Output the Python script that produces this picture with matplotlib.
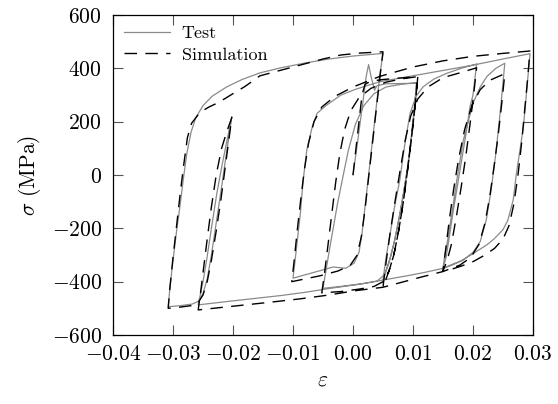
import matplotlib
matplotlib.use("Agg")
import matplotlib.pyplot as plt
from matplotlib.ticker import FuncFormatter

plt.rcParams.update({
    "font.family": "cmr10",
    "mathtext.fontset": "cm",
    "axes.formatter.use_mathtext": True,
    "axes.unicode_minus": True,
})

# ---- measured test response (strain, stress in MPa), in loading order ----
test_strain = [
    # monotonic start with upper yield point and plateau
    0.0, 0.0008, 0.0016, 0.0022, 0.0026, 0.0031, 0.0036, 0.0040, 0.0055, 0.0080, 0.0106,
    # reversal to compression
    0.0102, 0.0097, 0.0091, 0.0084, 0.0076, 0.0068, 0.0060, 0.0052, 0.0040, 0.0020, 0.0000, -0.0025, -0.0050,
    # reload in tension
    -0.0046, -0.0040, -0.0033, -0.0026, -0.0018, -0.0008, 0.0004, 0.0018, 0.0035, 0.0055, 0.0080, 0.0106,
    # unload
    0.0103, 0.0098, 0.0092, 0.0085, 0.0078, 0.0070, 0.0062, 0.0055, 0.0050,
    # reload
    0.0055, 0.0062, 0.0070, 0.0078, 0.0086, 0.0095, 0.0105, 0.0117, 0.0135, 0.0156, 0.0180, 0.0206,
    # unload
    0.0200, 0.0195, 0.0188, 0.0180, 0.0173, 0.0166, 0.0160, 0.0155, 0.0150,
    # reload
    0.0153, 0.0156, 0.0165, 0.0173, 0.0184, 0.0200, 0.0212, 0.0223, 0.0238, 0.0253,
    # long compression branch
    0.0246, 0.0238, 0.0230, 0.0222, 0.0212, 0.0200, 0.0184, 0.0165, 0.0150, 0.0120, 0.0090,
    0.0050, 0.0010, -0.0038, -0.0080, -0.0120, -0.0160, -0.0200, -0.0258,
    # short tension excursion
    -0.0255, -0.0250, -0.0244, -0.0236, -0.0227, -0.0218, -0.0210, -0.0202,
    # compression to the minimum strain
    -0.0207, -0.0213, -0.0220, -0.0228, -0.0236, -0.0243, -0.0250, -0.0257, -0.0268, -0.0288, -0.0308,
    # large tension branch
    -0.0305, -0.0300, -0.0294, -0.0288, -0.0283, -0.0277, -0.0270, -0.0262, -0.0250, -0.0235,
    -0.0210, -0.0185, -0.0155, -0.0120, -0.0080, -0.0040, 0.0000, 0.0030, 0.0050,
    # compression
    0.0045, 0.0040, 0.0035, 0.0030, 0.0025, 0.0020, 0.0015, 0.0010, 0.0002, -0.0012, -0.0033,
    -0.0060, -0.0088, -0.0100,
    # tension to the maximum strain
    -0.0097, -0.0093, -0.0088, -0.0083, -0.0077, -0.0068, -0.0060, -0.0044, -0.0020, 0.0005,
    0.0045, 0.0100, 0.0150, 0.0200, 0.0250, 0.0295,
    # final unloading
    0.0290, 0.0284, 0.0278, 0.0272, 0.0267, 0.0258, 0.0250, 0.0235, 0.0223, 0.0200, 0.0180, 0.0160, 0.0150,
]
test_stress = [
    0, 130, 265, 370, 414, 360, 318, 335, 342, 343, 344,
    250, 140, 30, -70, -170, -260, -330, -375, -398, -406, -412, -419, -425,
    -370, -290, -200, -110, -20, 90, 190, 260, 305, 330, 340, 346,
    256, 150, 40, -60, -150, -240, -310, -360, -394,
    -310, -219, -110, -19, 110, 230, 295, 331, 360, 381, 400, 416,
    300, 256, 150, 40, -56, -150, -240, -310, -350,
    -300, -269, -140, -19, 131, 269, 330, 369, 400, 419,
    250, 80, -60, -170, -250, -290, -319, -338, -350, -365, -378,
    -394, -410, -425, -440, -452, -462, -472, -487,
    -455, -400, -320, -200, -70, 40, 130, 219,
    140, 50, -60, -180, -300, -390, -445, -473, -484, -490, -494,
    -420, -320, -210, -110, -19, 80, 160, 215, 260, 295,
    331, 358, 383, 402, 420, 435, 446, 452, 456,
    380, 280, 180, 80, -20, -120, -220, -290, -330, -350, -345,
    -362, -380, -387,
    -330, -250, -150, -19, 94, 180, 231, 262, 300, 322,
    350, 372, 392, 412, 435, 455,
    330, 180, 90, 0, -94, -170, -205, -240, -262, -295, -322, -340, -350,
]

# ---- simulated response ----
sim_strain = [
    0.0, 0.0008, 0.0015, 0.0020, 0.0030, 0.0050, 0.0080, 0.0108,
    0.0104, 0.0098, 0.0091, 0.0084, 0.0076, 0.0068, 0.0060, 0.0050, 0.0035, 0.0010, -0.0020, -0.0052,
    -0.0047, -0.0041, -0.0035, -0.0029, -0.0022, -0.0014, -0.0004, 0.0010, 0.0030, 0.0055, 0.0080, 0.0108,
    0.0104, 0.0098, 0.0091, 0.0084, 0.0076, 0.0068, 0.0060, 0.0050,
    0.0055, 0.0062, 0.0070, 0.0078, 0.0087, 0.0096, 0.0108, 0.0125, 0.0150, 0.0178, 0.0206,
    0.0201, 0.0195, 0.0188, 0.0180, 0.0172, 0.0164, 0.0157, 0.0150,
    0.0155, 0.0161, 0.0168, 0.0176, 0.0186, 0.0198, 0.0212, 0.0228, 0.0245, 0.0253,
    0.0248, 0.0242, 0.0235, 0.0228, 0.0220, 0.0210, 0.0196, 0.0178, 0.0150, 0.0110, 0.0050,
    0.0000, -0.0040, -0.0090, -0.0150, -0.0200, -0.0258,
    -0.0254, -0.0249, -0.0243, -0.0236, -0.0228, -0.0219, -0.0210, -0.0202,
    -0.0207, -0.0213, -0.0220, -0.0228, -0.0236, -0.0243, -0.0250, -0.0258, -0.0270, -0.0290, -0.0308,
    -0.0305, -0.0300, -0.0294, -0.0288, -0.0282, -0.0276, -0.0269, -0.0255, -0.0240, -0.0224,
    -0.0200, -0.0180, -0.0155, -0.0125, -0.0088, -0.0050, -0.0020, 0.0010, 0.0050,
    0.0045, 0.0040, 0.0035, 0.0030, 0.0025, 0.0020, 0.0014, 0.0007, -0.0005, -0.0025, -0.0055,
    -0.0085, -0.0102,
    -0.0098, -0.0093, -0.0087, -0.0081, -0.0074, -0.0065, -0.0052, -0.0030, 0.0000, 0.0045,
    0.0100, 0.0150, 0.0200, 0.0250, 0.0295,
    0.0291, 0.0286, 0.0281, 0.0275, 0.0268, 0.0260, 0.0250, 0.0236, 0.0220, 0.0200, 0.0180, 0.0155,
]
sim_stress = [
    0, 160, 300, 340, 352, 358, 364, 369,
    270, 150, 20, -100, -210, -300, -360, -400, -418, -428, -437, -442,
    -360, -250, -140, -30, 80, 170, 240, 290, 325, 348, 360, 369,
    270, 150, 20, -100, -210, -300, -360, -420,
    -330, -215, -100, 10, 130, 220, 285, 330, 365, 383, 402,
    300, 190, 70, -50, -160, -260, -320, -360,
    -270, -160, -50, 60, 170, 260, 320, 355, 372, 380,
    270, 150, 30, -80, -180, -260, -310, -338, -362, -385, -421,
    -435, -450, -465, -480, -492, -506,
    -440, -350, -240, -120, 0, 100, 165, 215,
    130, 30, -90, -210, -320, -400, -450, -478, -490, -496, -500,
    -420, -310, -190, -70, 40, 140, 194, 235, 255, 272,
    305, 332, 372, 390, 412, 435, 450, 457, 462,
    370, 270, 170, 70, -30, -130, -230, -300, -340, -360, -378,
    -392, -400,
    -320, -210, -90, 20, 120, 200, 255, 295, 330, 370,
    405, 428, 445, 456, 465,
    360, 240, 120, 0, -110, -190, -240, -275, -300, -325, -342, -360,
]

x_ticks = [-0.04, -0.03, -0.02, -0.01, 0.00, 0.01, 0.02, 0.03]
y_ticks = [-600, -400, -200, 0, 200, 400, 600]

fig = plt.figure(figsize=(5.58, 4.04), dpi=100)
ax = fig.add_axes([0.2025, 0.1708, 0.7527, 0.7921])

ax.plot(test_strain, test_stress, color="#8a8a8a", lw=0.9, label="Test", zorder=2)
ax.plot(sim_strain, sim_stress, color="black", lw=1.0, dashes=(9, 6),
        label="Simulation", zorder=3)

ax.set_xlim(-0.04, 0.03)
ax.set_ylim(-600, 600)
ax.set_xticks(x_ticks)
ax.set_yticks(y_ticks)
ax.xaxis.set_major_formatter(FuncFormatter(lambda v, p: "$%.2f$" % (0.0 if abs(v) < 1e-9 else v)))
ax.yaxis.set_major_formatter(FuncFormatter(lambda v, p: "$%d$" % round(v)))
ax.tick_params(direction="in", length=7.5, width=0.8, top=True, right=True,
               labelsize=15.5, color="#555555")
ax.tick_params(axis="x", pad=7)
ax.tick_params(axis="y", pad=8)
for s in ax.spines.values():
    s.set_linewidth(0.9)

ax.set_xlabel(r"$\varepsilon$", fontsize=15.5, labelpad=4)
ax.set_ylabel(r"$\sigma$ (MPa)", fontsize=15.5, labelpad=6)

leg = ax.legend(loc="upper left", frameon=False, fontsize=13, handlelength=2.55,
                handletextpad=0.65, borderaxespad=0.2, labelspacing=0.3)

fig.savefig("out.png", dpi=100)
